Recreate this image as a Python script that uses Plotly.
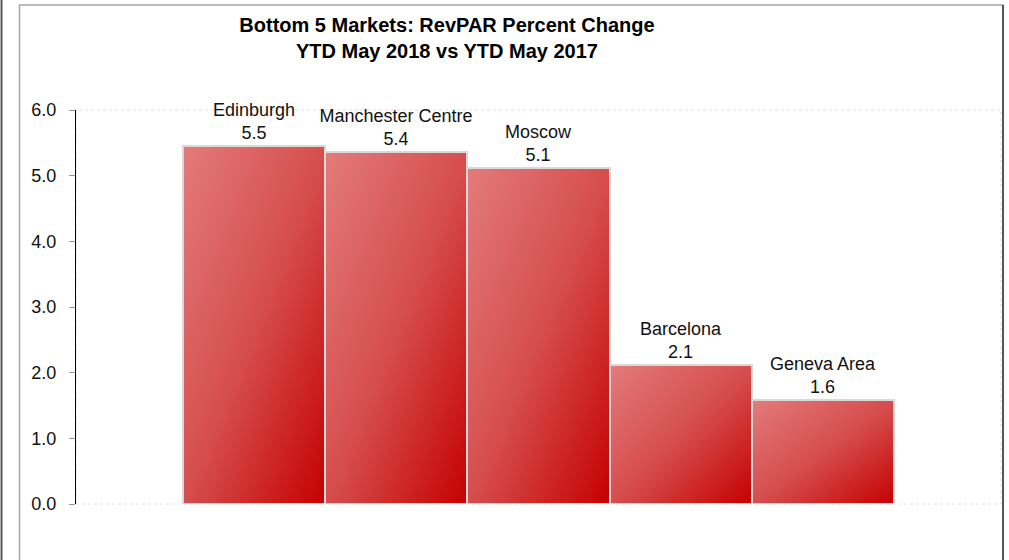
import base64
import plotly.graph_objects as go

markets = ["Edinburgh", "Manchester Centre", "Moscow", "Barcelona", "Geneva Area"]
revpar_change = [5.45, 5.36, 5.12, 2.12, 1.59]
y_ticks = [0, 1, 2, 3, 4, 5, 6]

title = "<b>Bottom 5 Markets: RevPAR Percent Change<br>YTD May 2018 vs YTD May 2017</b>"

# diagonal red gradient used as the fill of each bar
svg = ('<svg xmlns="http://www.w3.org/2000/svg" width="100" height="100" preserveAspectRatio="none">'
       '<defs><linearGradient id="g" x1="0" y1="0" x2="1" y2="1">'
       '<stop offset="0" stop-color="#e37b7b"/><stop offset="0.5" stop-color="#d64e4e"/>'
       '<stop offset="1" stop-color="#c50000"/></linearGradient></defs>'
       '<rect width="100" height="100" fill="url(#g)"/></svg>')
grad_src = "data:image/svg+xml;base64," + base64.b64encode(svg.encode()).decode()

xpos = list(range(len(markets)))
labels = [f"{m}<br>{v:.1f}" for m, v in zip(markets, revpar_change)]

fig = go.Figure()
fig.add_trace(go.Bar(
    x=xpos, y=revpar_change, width=1,
    marker=dict(color="rgba(0,0,0,0)", line=dict(color="#d9d9d9", width=2)),
    text=labels, textposition="outside", constraintext="none", cliponaxis=False,
    textfont=dict(family="Liberation Sans, Arial", size=18, color="#111"),
    hoverinfo="skip",
))

images = []
for i, v in zip(xpos, revpar_change):
    images.append(dict(source=grad_src, xref="x", yref="y", x=i - 0.5, y=v,
                       sizex=1, sizey=v, sizing="stretch", layer="below",
                       xanchor="left", yanchor="top"))

shapes = [
    # plot area frame (dotted)
    dict(type="rect", xref="paper", yref="paper", x0=0, x1=1, y0=0, y1=1,
         line=dict(color="#dedede", width=1, dash="dot"), layer="below"),
    # outer chart box
    dict(type="rect", xref="paper", yref="paper", x0=-0.0611, x1=1.0022, y0=-0.3, y1=1.2665,
         line=dict(color="#a6a6a6", width=1.5)),
    dict(type="line", xref="paper", yref="paper", x0=1.0022, x1=1.0022, y0=-0.3, y1=1.2665,
         line=dict(color="#555", width=2)),
    dict(type="line", xref="paper", yref="paper", x0=-0.0805, x1=-0.0805, y0=-0.3, y1=1.5,
         line=dict(color="#555", width=2)),
]

fig.update_layout(
    width=1009, height=560,
    margin=dict(l=76, r=8, t=110, b=56),
    paper_bgcolor="white", plot_bgcolor="rgba(0,0,0,0)",
    showlegend=False, bargap=0,
    title=dict(text=title, x=0.443, xanchor="center", y=0.943, yanchor="top",
               font=dict(family="Liberation Sans, Arial", size=20, color="#000")),
    font=dict(family="Liberation Sans, Arial", size=18, color="#111"),
    images=images, shapes=shapes,
)
fig.update_xaxes(range=[-1.25, 5.25], showticklabels=False, showgrid=False,
                 zeroline=False, showline=False, ticks="")
fig.update_yaxes(range=[0, 6], tickvals=y_ticks, tickformat=".1f", showgrid=False,
                 zeroline=False, showline=True, linecolor="#000", linewidth=1,
                 ticks="outside", ticklen=6, tickcolor="#999", ticklabelstandoff=9,
                 tickfont=dict(size=18, color="#111"))

# drop the default page margin so the figure sits at the window's corner
fig.write_html("out.html", config={"displayModeBar": False},
               post_script="document.body.style.margin='0';")
